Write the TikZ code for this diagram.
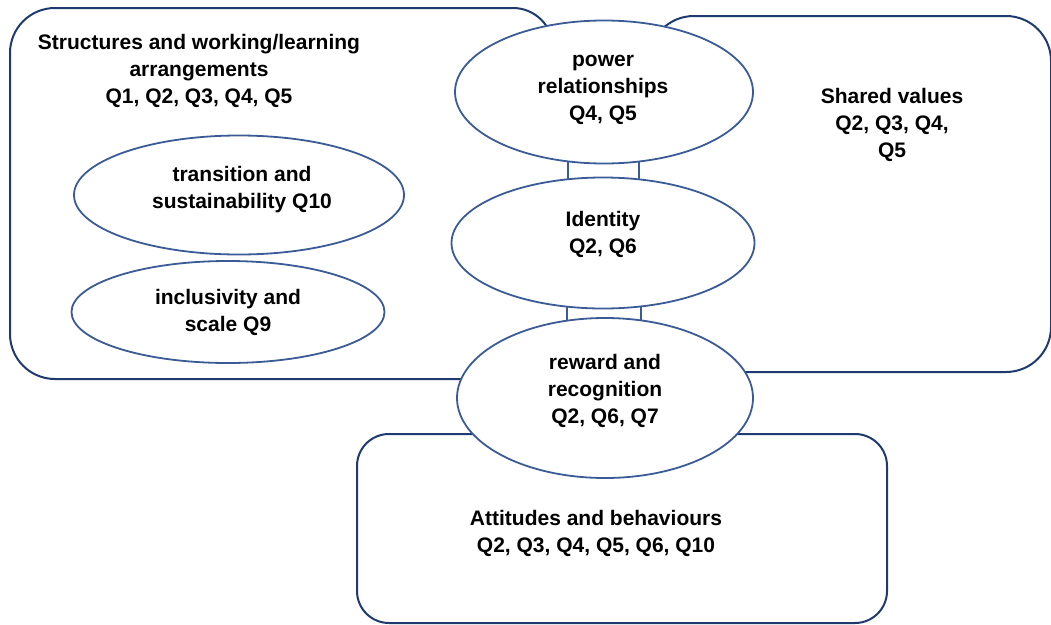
\documentclass[tikz,border=0pt]{standalone}
\usepackage{fontspec}
\setmainfont{Liberation Sans}
\usetikzlibrary{shapes.geometric,backgrounds,calc}

\definecolor{boxnavy}{HTML}{1F3A6E}
\definecolor{ovalblue}{HTML}{3A5B96}

\tikzset{
	area/.style={draw=boxnavy, line width=2pt},
	oval/.style={ellipse, draw=ovalblue, line width=1.8pt, fill=white, inner sep=0pt},
	txt/.style={align=center, font=\bfseries\fontsize{21}{27}\selectfont},
	bridge/.style={draw=ovalblue, line width=1.8pt, fill=white},
}

\begin{document}
\begin{tikzpicture}[x=1pt,y=-1pt]
		\useasboundingbox (0,0) rectangle (1051,624);

		\node[txt] (structures) at (199,71) {Structures and working/learning\\arrangements\\Q1, Q2, Q3, Q4, Q5};
		\node[txt] (shared) at (892,125) {Shared values\\Q2, Q3, Q4,\\Q5};
		\node[txt] (attitudes) at (596,533) {Attitudes and behaviours\\Q2, Q3, Q4, Q5, Q6, Q10};

		% ovals inside the first area
		\node[oval, minimum width=330, minimum height=119] (transition) at (239,195) {};
		\node[txt] (transition-t) at (242,190) {transition and\\sustainability Q10};
		\node[oval, minimum width=313, minimum height=102] (inclusivity) at (228,312) {};
		\node[txt] (inclusivity-t) at (228,312) {inclusivity and\\scale Q9};

		% the middle column
		\node[oval, minimum width=298, minimum height=143] (power) at (604,92) {};
		\node[txt] (power-t) at (603,90) {power\\relationships\\Q4, Q5};
		\node[oval, minimum width=303, minimum height=131] (identity) at (603,243) {};
		\node[txt] (identity-t) at (603,234) {Identity\\Q2, Q6};
		\node[oval, minimum width=296, minimum height=160] (reward) at (605,398) {};
		\node[txt] (reward-t) at (605,391) {reward and\\recognition\\Q2, Q6, Q7};

		\begin{pgfonlayer}{background}
			\begin{scope}
				\clip (0,0) rectangle (1051,624);
				% the three areas
				\draw[area] (600,100) -- (553,48) .. controls (553,26) and (535,8) .. (513,8)
					[rounded corners=45pt] -| (10,379) -| (600,100);
				\draw[area] (610,120) -- (649,61) .. controls (649,36) and (669,16) .. (694,16)
					[rounded corners=45pt] -| (1051,372) -| (610,120);
				\draw[area, rounded corners=32pt] (357,434) rectangle (887,623);
			\end{scope}
			% bridges between the ovals
			\draw[bridge] ($(power.center)+(-36,0)$) rectangle ($(identity.center)+(36,0)$);
			\draw[bridge] ($(identity.center)+(-36,0)$) rectangle ($(reward.center)+(36,0)$);
		\end{pgfonlayer}
	\end{tikzpicture}
\end{document}
